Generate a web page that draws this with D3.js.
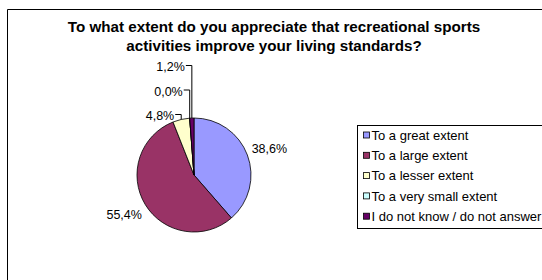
<!DOCTYPE html>
<html>
<head>
<meta charset="utf-8">
<script src="https://cdnjs.cloudflare.com/ajax/libs/d3/7.8.5/d3.min.js"></script>
<style>
  body { margin: 0; background: #fff; }
  text { font-family: "Liberation Sans", Arial, sans-serif; fill: #000; }
</style>
</head>
<body>
<div id="chart"></div>
<script>
var titleLines = ['To what extent do you appreciate that recreational sports',
                  'activities improve your living standards?'];
var categories = ['To a great extent', 'To a large extent', 'To a lesser extent',
                  'To a very small extent', 'I do not know / do not answer'];
var values = [38.6, 55.4, 4.8, 0.0, 1.2];
var colors = ['#9999ff', '#993366', '#ffffcc', '#ccffff', '#660066'];

const dims = { width: 542, height: 280, cx: 194, cy: 175, radius: 57 };

const svg = d3.select('#chart').append('svg')
  .attr('width', dims.width)
  .attr('height', dims.height);

// chart area frame (runs off right and bottom)
svg.append('path')
  .attr('d', 'M7.5,' + dims.height + 'V9.5H' + dims.width)
  .attr('fill', 'none')
  .attr('stroke', '#000')
  .attr('stroke-width', 1);

// TITLE
svg.append('text')
  .attr('text-anchor', 'middle')
  .style('font-weight', 'bold')
  .style('font-size', '15.2px')
  .selectAll('tspan')
  .data(titleLines)
  .enter().append('tspan')
    .attr('x', 274)
    .attr('y', (d, i) => 32 + i * 19)
    .text(d => d);

// PIE
const pie = d3.pie().sort(null).value(d => d);
const arc = d3.arc().innerRadius(0).outerRadius(dims.radius);
const arcs = pie(values);

const root = svg.append('g').attr('transform', `translate(${dims.cx},${dims.cy})`);

root.selectAll('path.slice')
  .data(arcs)
  .enter().append('path')
    .attr('class', 'slice')
    .attr('d', arc)
    .attr('fill', (d, i) => colors[i])
    .attr('stroke', '#000')
    .attr('stroke-width', 0.8)
    .attr('stroke-linejoin', 'round');

// LABELS
const locale = d3.formatLocale({ decimal: ',', thousands: '.', grouping: [3], currency: ['', ''] });
const fmt = locale.format('.1f');
const labelSize = 12.5;

var stack = 0;
arcs.forEach(function(d, i) {
  const mid = (d.startAngle + d.endAngle) / 2;
  const px = Math.sin(mid) * dims.radius;
  const py = -Math.cos(mid) * dims.radius;
  const txt = fmt(d.data) + '%';
  if (d.data < 6) {
    // small slices near the top: stacked labels with leader lines
    const ly = -dims.radius - 2 - stack * 24.5;
    const lx = px - 7;
    root.append('text')
      .attr('x', lx)
      .attr('y', ly + 4.3)
      .attr('text-anchor', 'end')
      .style('font-size', labelSize + 'px')
      .text(txt);
    root.append('polyline')
      .attr('points', [[lx + 1, ly - 1.5], [px, ly - 1.5], [px, py]].join(' '))
      .attr('fill', 'none')
      .attr('stroke', '#000')
      .attr('stroke-width', 1);
    stack++;
  } else {
    const r2 = dims.radius + 4;
    const x = Math.sin(mid) * r2;
    const y = -Math.cos(mid) * r2;
    const right = x >= 0;
    const below = y >= 0;
    root.append('text')
      .attr('x', x + (right ? 0.5 : 0))
      .attr('y', below ? y + 12 : y - 1)
      .attr('text-anchor', right ? 'start' : 'end')
      .style('font-size', labelSize + 'px')
      .text(txt);
  }
});

// LEGEND
const legend = svg.append('g').attr('transform', 'translate(357.5,125.5)');
legend.append('rect')
  .attr('width', 200)
  .attr('height', 103)
  .attr('fill', '#fff')
  .attr('stroke', '#000')
  .attr('stroke-width', 1);

const items = legend.selectAll('g.item')
  .data(categories)
  .enter().append('g')
    .attr('class', 'item')
    .attr('transform', (d, i) => `translate(0,${9.5 + i * 20.3})`);

items.append('rect')
  .attr('x', 6)
  .attr('y', -3)
  .attr('width', 6)
  .attr('height', 6)
  .attr('fill', (d, i) => colors[i])
  .attr('stroke', '#000')
  .attr('stroke-width', 0.8);

items.append('text')
  .attr('x', 14)
  .attr('y', 4.6)
  .style('font-size', '13px')
  .text(d => d);
</script>
</body>
</html>
